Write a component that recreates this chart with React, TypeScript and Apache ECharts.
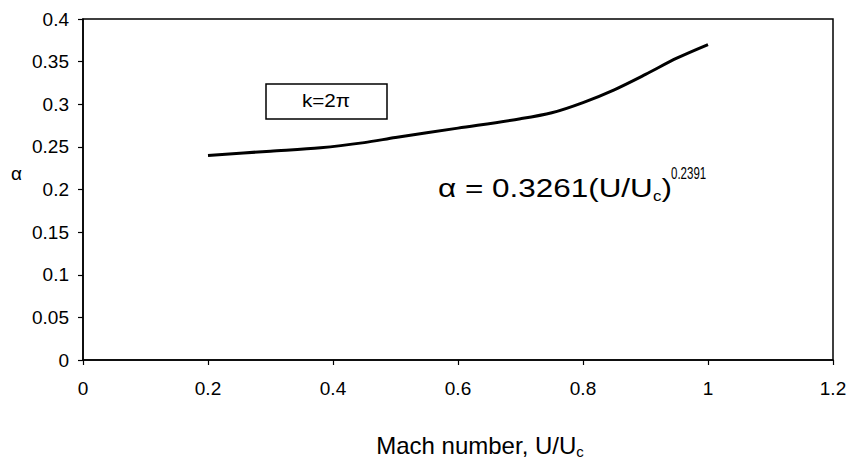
import React, { useEffect, useRef } from "react";
import * as echarts from "echarts";

const xValues = [0.2, 0.3, 0.38, 0.45, 0.5, 0.6, 0.7, 0.75, 0.8, 0.85, 0.9, 0.95, 1.0];
const alphaValues = [0.24, 0.245, 0.249, 0.255, 0.261, 0.272, 0.283, 0.29, 0.302, 0.317, 0.335, 0.354, 0.37];
const xAxisTitle = "Mach number, U/U";
const yAxisTitle = "α";
const boxLabel = "k=2π";
const equationMain = "α = 0.3261(U/U";
const equationExp = "0.2391";

const FONT = "'Liberation Sans', Arial, sans-serif";

export default function App() {
  const ref = useRef<HTMLDivElement>(null);
  useEffect(() => {
    if (!ref.current) return;
    const chart = echarts.init(ref.current, null, { renderer: "svg" });
    const data = xValues.map((x, i) => [x, alphaValues[i]]);
    chart.setOption({
      animation: false,
      backgroundColor: "#fff",
      grid: {
        left: 83,
        right: 16,
        top: 19,
        bottom: 100,
        show: true,
        borderColor: "#000",
        borderWidth: 1.5,
        containLabel: false,
        outerBoundsMode: "none",
      },
      xAxis: {
        type: "value",
        min: 0,
        max: 1.2,
        interval: 0.2,
        splitLine: { show: false },
        axisLine: { show: true, onZero: false, lineStyle: { color: "#000", width: 1.5 } },
        axisTick: { show: true, inside: false, length: 5, lineStyle: { color: "#000", width: 1.2 } },
        axisLabel: { color: "#000", fontFamily: FONT, fontSize: 19, margin: 19 },
        name: `{n|${xAxisTitle}}{s|c}`,
        nameLocation: "middle",
        nameGap: 73,
        nameTextStyle: {
          padding: [0, 0, 0, 44],
          rich: {
            n: { fontFamily: FONT, fontSize: 24, color: "#000" },
            s: { fontFamily: FONT, fontSize: 15, color: "#000", verticalAlign: "bottom", padding: [0, 0, -2, 0] },
          },
        },
      },
      yAxis: {
        type: "value",
        min: 0,
        max: 0.4,
        interval: 0.05,
        splitLine: { show: false },
        axisLine: { show: true, onZero: false, lineStyle: { color: "#000", width: 1.5 } },
        axisTick: { show: true, inside: false, length: 5, lineStyle: { color: "#000", width: 1.2 } },
        axisLabel: { color: "#000", fontFamily: FONT, fontSize: 19, margin: 14 },
      },
      series: [
        {
          type: "line",
          data,
          smooth: 0.3,
          symbol: "none",
          lineStyle: { color: "#000", width: 3 },
        },
      ],
      graphic: [
        {
          type: "text",
          left: 11,
          top: 164,
          style: { text: yAxisTitle, font: `19px ${FONT}`, fill: "#000" },
        },
        {
          type: "rect",
          shape: { x: 266, y: 84, width: 121, height: 35 },
          style: { fill: "#fff", stroke: "#000", lineWidth: 1.5 },
        },
        {
          type: "text",
          x: 326,
          y: 101,
          scaleX: 1.15,
          style: {
            text: boxLabel,
            font: `18px ${FONT}`,
            fill: "#000",
            align: "center",
            verticalAlign: "middle",
          },
        },
        {
          type: "text",
          x: 438,
          y: 188,
          scaleX: 1.21,
          style: {
            text: `{a|${equationMain}}{s|c}{a|)}`,
            verticalAlign: "middle",
            rich: {
              a: { fontFamily: FONT, fontSize: 26, color: "#000" },
              s: { fontFamily: FONT, fontSize: 14, color: "#000", verticalAlign: "bottom", padding: [0, 0, -2, 0] },
            },
          },
        },
        {
          type: "text",
          x: 671,
          y: 173,
          scaleX: 0.72,
          style: {
            text: equationExp,
            font: `16px ${FONT}`,
            fill: "#000",
            verticalAlign: "middle",
          },
        },
      ],
    });
    return () => chart.dispose();
  }, []);
  return (
    <div
      ref={ref}
      style={{ position: "fixed", left: 0, top: 0, width: 849, height: 460, background: "#fff" }}
    />
  );
}
